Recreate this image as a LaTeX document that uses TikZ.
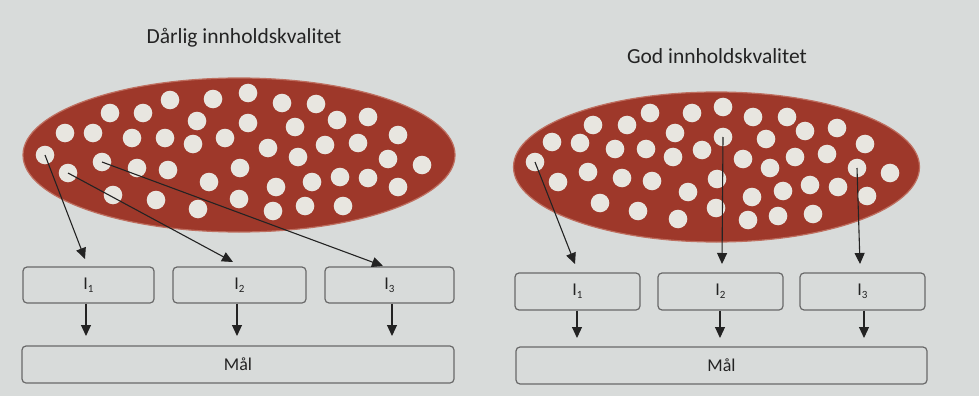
\documentclass[tikz,border=0pt]{standalone}
\usepackage{fontspec}
\setmainfont{Carlito}
\usetikzlibrary{arrows.meta}
\definecolor{bg}{RGB}{216,219,218}
\definecolor{ellred}{RGB}{158,56,42}
\definecolor{ellrim}{RGB}{190,110,95}
\definecolor{dotcol}{RGB}{232,230,224}
\definecolor{boxline}{RGB}{105,105,105}
\definecolor{ink}{RGB}{35,35,35}
\tikzset{
  ibox/.style={draw=boxline, line width=1.2pt, rounded corners=4pt, inner sep=0pt, font=\fontsize{18}{18}\selectfont, text=ink},
  arr/.style={draw=ink, line width=1.1pt, -{Triangle[length=11pt,width=10pt]}},
  dot/.style={fill=dotcol},
  title/.style={font=\fontsize{21.5}{21.5}\selectfont, text=ink},
  blob/.style={fill=ellred, draw=ellrim, line width=1.2pt}
}
\newcommand{\isub}[1]{I\raisebox{-3pt}{\fontsize{11}{11}\selectfont #1}}
\begin{document}
\begin{tikzpicture}[x=1pt,y=-1pt]
\fill[bg] (0,0) rectangle (979,396);
\useasboundingbox (0,0) rectangle (979,396);

% ---------- left: poor quality ----------
\node[title] (t1) at (244,38) {Dårlig innholdskvalitet};
\path[blob] (239,155) ellipse [x radius=216, y radius=77];
\foreach \x/\y in {170/100,213/99,248/93,282/103,316/104,110/113,143/113,197/121,248/123,295/127,337/120,368/117,
  65/133,93/133,132/138,165/138,193/144,225/138,268/148,325/145,358/143,398/135,
  45/155,102/162,137/168,168/170,240/168,298/157,388/159,422/165,
  68/173,209/182,276/187,312/182,340/177,368/178,398/187,
  113/195,156/200,198/209,239/199,273/211,305/206,343/206}
  \fill[dot] (\x,\y) circle [radius=9.3];
\coordinate (la) at (45,155);
\coordinate (lb) at (68,173);
\coordinate (lc) at (102,162);

\node[ibox, minimum width=131pt, minimum height=36pt] (l1) at (88.5,285) {\isub{1}};
\node[ibox, minimum width=133pt, minimum height=36pt] (l2) at (239.5,285) {\isub{2}};
\node[ibox, minimum width=129pt, minimum height=36pt] (l3) at (389.5,285) {\isub{3}};
\node[ibox, minimum width=432pt, minimum height=37pt] (lm) at (238,364.5) {Mål};

\coordinate (la2) at (85,259);
\coordinate (lb2) at (233,262);
\coordinate (lc2) at (383,266);
\draw[arr] (la) -- (la2);
\draw[arr] (lb) -- (lb2);
\draw[arr] (lc) -- (lc2);

\coordinate (ld1) at (86,336);
\coordinate (ld2) at (237,336);
\coordinate (ld3) at (392,336);
\draw[arr] (l1.south -| ld1) -- (ld1);
\draw[arr] (l2.south -| ld2) -- (ld2);
\draw[arr] (l3.south -| ld3) -- (ld3);

% ---------- right: good quality ----------
\node[title] (t2) at (717,56) {God innholdskvalitet};
\path[blob] (716.5,167) ellipse [x radius=203, y radius=75];
\foreach \x/\y in {723/107,692/113,650/113,753/117,787/117,593/125,627/125,675/133,723/137,766/139,805/131,837/128,
  552/142,580/143,615/149,646/149,673/157,702/150,743/159,795/157,827/154,865/144,
  535/162,588/172,622/178,652/181,717/179,770/168,857/168,890/173,
  558/182,688/192,752/197,783/191,810/185,838/187,867/196,
  600/203,638/211,678/219,716/208,748/220,778/216,813/214}
  \fill[dot] (\x,\y) circle [radius=9.3];
\coordinate (ra) at (535,162);
\coordinate (rb) at (723,137);
\coordinate (rc) at (857,168);

\node[ibox, minimum width=125pt, minimum height=37pt] (r1) at (577.5,291.5) {\isub{1}};
\node[ibox, minimum width=125pt, minimum height=37pt] (r2) at (720.5,291.5) {\isub{2}};
\node[ibox, minimum width=125pt, minimum height=37pt] (r3) at (862.5,291.5) {\isub{3}};
\node[ibox, minimum width=411pt, minimum height=37pt] (rm) at (721.5,365.5) {Mål};

\coordinate (ra2) at (575,264);
\coordinate (rb2) at (722,264);
\coordinate (rc2) at (860,264);
\draw[arr] (ra) -- (ra2);
\draw[arr] (rb) -- (rb2);
\draw[arr] (rc) -- (rc2);

\coordinate (rd1) at (577,338);
\coordinate (rd2) at (720,338);
\coordinate (rd3) at (864,338);
\draw[arr] (r1.south -| rd1) -- (rd1);
\draw[arr] (r2.south -| rd2) -- (rd2);
\draw[arr] (r3.south -| rd3) -- (rd3);
\end{tikzpicture}
\end{document}
